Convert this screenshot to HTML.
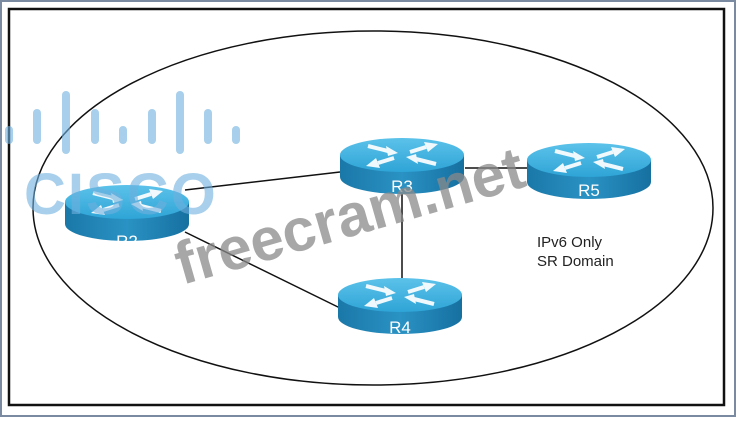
<!DOCTYPE html>
<html><head><style>body{margin:0;background:#fff}</style></head><body>
<svg width="736" height="417" viewBox="0 0 736 417" xmlns="http://www.w3.org/2000/svg" font-family="Liberation Sans, sans-serif">
<defs>
<linearGradient id="side" x1="0" x2="1"><stop offset="0" stop-color="#1a78a8"/><stop offset=".5" stop-color="#2a92c4"/><stop offset="1" stop-color="#1670a0"/></linearGradient>
<linearGradient id="top" x1="0" y1="0" x2="0" y2="1"><stop offset="0" stop-color="#5cc2ea"/><stop offset="1" stop-color="#2ea4d6"/></linearGradient>
<g id="r">
<path d="M-62 0 V22 A62 17 0 0 0 62 22 V0 Z" fill="url(#side)"/>
<ellipse cx="0" cy="0" rx="62" ry="17" fill="url(#top)"/>
<g stroke="#fff" stroke-width="4" fill="#fff" opacity=".92">
<line x1="-34" y1="-9" x2="-14" y2="-4"/><polygon points="-4,-2 -16,-9 -14,1" stroke="none"/>
<line x1="8" y1="-3" x2="24" y2="-8"/><polygon points="36,-11 22,-13 26,-3" stroke="none"/>
<line x1="-8" y1="3" x2="-24" y2="8"/><polygon points="-36,11 -22,13 -26,3" stroke="none"/>
<line x1="34" y1="9" x2="14" y2="4"/><polygon points="4,2 16,9 14,-1" stroke="none"/>
</g>
</g>
</defs>
<rect x="1" y="1" width="734" height="415" fill="none" stroke="#7a8aa0" stroke-width="2"/>
<rect x="9" y="9" width="715" height="396" fill="#fff" stroke="#111" stroke-width="2.5"/>
<ellipse cx="373" cy="208" rx="340" ry="177" fill="none" stroke="#111" stroke-width="1.5"/>
<g stroke="#111" stroke-width="1.5">
<line x1="185" y1="190" x2="340" y2="172"/>
<line x1="185" y1="232" x2="340" y2="308"/>
<line x1="402" y1="190" x2="402" y2="278"/>
<line x1="465" y1="168" x2="530" y2="168"/>
</g>
<use href="#r" x="127" y="202"/>
<use href="#r" x="402" y="155"/>
<use href="#r" x="589" y="160"/>
<use href="#r" x="400" y="295"/>
<g fill="#fff" font-size="17" text-anchor="middle">
<text x="127" y="247">R2</text>
<text x="402" y="192">R3</text>
<text x="589" y="196">R5</text>
<text x="400" y="333">R4</text>
</g>
<g fill="#222" font-size="15">
<text x="537" y="247">IPv6 Only</text>
<text x="537" y="266">SR Domain</text>
</g>
<g stroke="#6fb0de" stroke-width="8" stroke-linecap="round" opacity=".6">
<line x1="9" y1="130" x2="9" y2="140"/><line x1="37" y1="113" x2="37" y2="140"/>
<line x1="66" y1="95" x2="66" y2="150"/><line x1="95" y1="113" x2="95" y2="140"/>
<line x1="123" y1="130" x2="123" y2="140"/><line x1="152" y1="113" x2="152" y2="140"/>
<line x1="180" y1="95" x2="180" y2="150"/><line x1="208" y1="113" x2="208" y2="140"/>
<line x1="236" y1="130" x2="236" y2="140"/>
</g>
<text x="24" y="214" font-size="58" font-weight="bold" fill="#6fb0de" opacity=".6" letter-spacing="2">CISCO</text>
<text x="0" y="0" font-size="60" font-weight="bold" fill="#8a8a8a" opacity=".75" transform="translate(182 285) rotate(-16)">freecram.net</text>
</svg>
</body></html>
